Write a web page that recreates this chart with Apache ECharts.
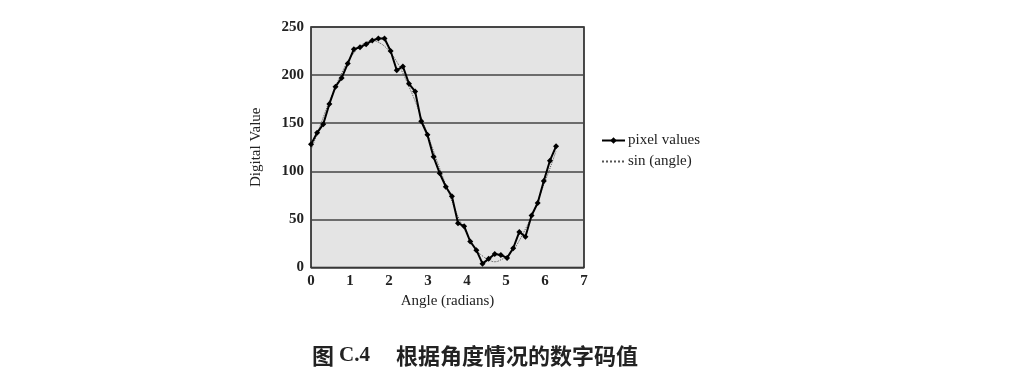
<!DOCTYPE html>
<html><head><meta charset="utf-8">
<script src="https://cdn.jsdelivr.net/npm/echarts@6/dist/echarts.min.js"></script>
<style>html,body{margin:0;padding:0;background:#fff}#c{width:1024px;height:390px}</style>
</head><body><div id="c"></div>
<script>
// angle samples (radians), step pi/20
const angles = [0.000,0.157,0.314,0.471,0.628,0.785,0.942,1.100,1.257,1.414,1.571,1.728,1.885,2.042,2.199,2.356,2.513,2.670,2.827,2.985,3.142,3.299,3.456,3.613,3.770,3.927,4.084,4.241,4.398,4.555,4.712,4.869,5.027,5.184,5.341,5.498,5.655,5.812,5.969,6.126,6.283];
const pixelValues = [128,140,149,170,188,197,212,227,229,232,236,238,238,225,205,209,191,183,152,138,115,98,84,74,46,43,27,18,4,9,14,13,10,20,37,32,54,67,90,111,126];
const sinValues = [122,139,156,173,188,202,214,223,230,234,236,234,230,223,214,202,188,173,156,139,121,103,86,69,53,40,28,18,12,8,6,8,12,18,28,40,53,69,86,103,121];
const xTicks = [0,1,2,3,4,5,6,7];
const yTicks = [0,50,100,150,200,250];
const captionFig = '图 ';
const captionNum = 'C.4';
const captionText = '根据角度情况的数字码值';

const pair = (xs, ys) => xs.map((x, i) => [x, ys[i]]);
const serif = 'Liberation Serif';
const chart = echarts.init(document.getElementById('c'), null, {renderer: 'canvas'});
chart.setOption({
  backgroundColor: '#ffffff',
  animation: false,
  grid: {left: 311, right: 440, top: 27, bottom: 122.5, show: true,
    backgroundColor: '#e4e4e4', borderColor: '#111', borderWidth: 1.5},
  xAxis: {type: 'value', min: xTicks[0], max: xTicks[xTicks.length - 1], interval: 1,
    name: 'Angle (radians)', nameLocation: 'middle', nameGap: 25,
    nameTextStyle: {fontFamily: serif, fontSize: 15, color: '#222'},
    axisLine: {show: false}, axisTick: {show: false}, splitLine: {show: false},
    axisLabel: {fontFamily: serif, fontWeight: 'bold', fontSize: 15, color: '#222', margin: 6}},
  yAxis: {type: 'value', min: yTicks[0], max: yTicks[yTicks.length - 1], interval: 50,
    name: 'Digital Value', nameLocation: 'middle', nameGap: 47, nameRotate: 90,
    nameTextStyle: {fontFamily: serif, fontSize: 15, color: '#222'},
    axisLine: {show: false}, axisTick: {show: false},
    splitLine: {show: true, lineStyle: {color: '#444', width: 1.5}},
    axisLabel: {fontFamily: serif, fontWeight: 'bold', fontSize: 15, color: '#222', margin: 7}},
  legend: {orient: 'vertical', left: 596, top: 128, itemWidth: 23, itemHeight: 8, itemGap: 6,
    textStyle: {fontFamily: serif, fontSize: 15, color: '#222', padding: [0, 0, 0, -2]},
    data: [{name: 'pixel values'}, {name: 'sin (angle)', itemStyle: {opacity: 0}}]},
  series: [
    {name: 'sin (angle)', type: 'line', data: pair(angles, sinValues), smooth: true,
      symbol: 'none', itemStyle: {color: '#555'},
      lineStyle: {color: '#555', width: 1, type: 'dotted'}, z: 2},
    {name: 'pixel values', type: 'line', data: pair(angles, pixelValues),
      symbol: 'diamond', symbolSize: 6, itemStyle: {color: '#000'},
      lineStyle: {color: '#000', width: 2}, z: 3}
  ],
  graphic: [{type: 'text', left: 312, top: 345,
    style: {
      text: '{a|' + captionFig + '}{b|' + captionNum + '}{gap|}{a|' + captionText + '}',
      rich: {
        a: {font: 'bold 22px "Noto Sans CJK SC"', fill: '#222'},
        b: {font: 'bold 21px "Liberation Serif"', fill: '#222'},
        gap: {width: 26}
      }
    }}]
});
</script></body></html>
